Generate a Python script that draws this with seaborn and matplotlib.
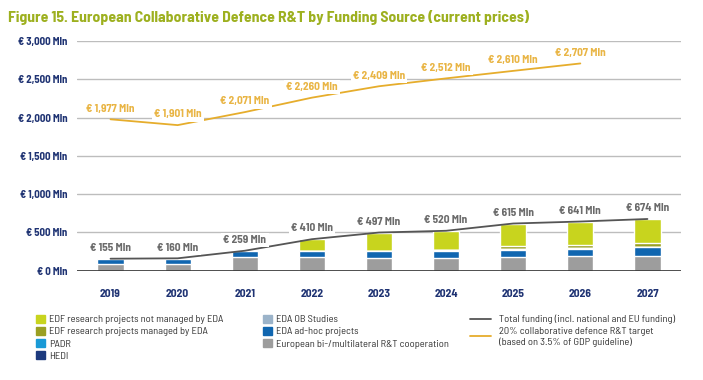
import numpy as np
import matplotlib
matplotlib.use("Agg")
import matplotlib.pyplot as plt
from matplotlib.patches import Patch
from matplotlib.lines import Line2D
import seaborn as sns

# ---- data (EUR Mln) -------------------------------------------------------
years = ["2019", "2020", "2021", "2022", "2023", "2024", "2025", "2026", "2027"]
bilateral = [85, 85, 180, 172, 160, 166, 180, 188, 192]
eda_adhoc = [60, 65, 70, 78, 95, 95, 90, 100, 110]
eda_ob = [2, 5, 5, 5, 7, 7, 8, 8, 8]
hedi = [0, 0, 0, 0, 0, 0, 0, 0, 0]
padr = [8, 5, 4, 0, 0, 0, 0, 0, 0]
edf_eda = [0, 0, 0, 0, 0, 0, 40, 44, 50]
edf_not_eda = [0, 0, 0, 155, 235, 252, 297, 301, 314]
totals = [155, 160, 259, 410, 497, 520, 615, 641, 674]
target_years = ["2019", "2020", "2021", "2022", "2023", "2024", "2025", "2026"]
target = [1977, 1901, 2071, 2260, 2409, 2512, 2610, 2707]

series = [
    ("European bi-/multilateral R&T cooperation", bilateral, "#9d9d9d"),
    ("EDA ad-hoc projects", eda_adhoc, "#1066b0"),
    ("EDA OB Studies", eda_ob, "#9bb3c9"),
    ("HEDI", hedi, "#1d3a7e"),
    ("PADR", padr, "#1a9ad6"),
    ("EDF research projects managed by EDA", edf_eda, "#9a9f22"),
    ("EDF research projects not managed by EDA", edf_not_eda, "#c8d41e"),
]

sns.set_theme(style="white")
plt.rcParams["font.family"] = ["Barlow Semi Condensed", "Roboto Condensed", "DejaVu Sans"]

NAVY = "#1f3373"
GOLD = "#e6ad2c"
GOLD_TXT = "#e9b545"
GREY_TXT = "#6b6b6b"

fig = plt.figure(figsize=(7.03, 3.8), dpi=100)
ax = fig.add_axes([0.1095, 0.288, 0.8592, 0.604])

# stacked bars: draw cumulative sums from the top layer down
cum = np.cumsum([np.array(s[1], dtype=float) for s in series], axis=0)
for i in range(len(series) - 1, -1, -1):
    sns.barplot(x=years, y=cum[i], color=series[i][2], width=0.39,
                saturation=1, ax=ax, zorder=2)

idx = np.arange(len(years))
sns.lineplot(x=idx, y=totals, color="#555555", lw=1.3, ax=ax, zorder=3)
sns.lineplot(x=np.arange(len(target_years)), y=target, color=GOLD, lw=1.3,
             ax=ax, zorder=3)

lab_kw = dict(ha="center", va="bottom", fontsize=8.2, fontweight="bold",
              bbox=dict(boxstyle="square,pad=0.2", fc="white", ec="none"),
              zorder=4)
for i, v in enumerate(totals):
    ax.text(i, v + 75, f"€ {v:,} Mln", color=GREY_TXT, **lab_kw)
for i, v in enumerate(target):
    ax.text(i, v + 75, f"€ {v:,} Mln", color=GOLD_TXT, **lab_kw)

ax.set_xlim(-0.5, 8.5)
ax.set_ylim(0, 3000)
ax.set_yticks(np.arange(0, 3001, 500))
ax.set_yticklabels([f"€ {v:,} Mln" for v in range(0, 3001, 500)])
ax.yaxis.grid(True, color="#bdbdbd", lw=1.0, zorder=0)
ax.set_axisbelow(True)
for s in ax.spines.values():
    s.set_visible(False)
ax.axhline(0, color="#333333", lw=1.2, zorder=3)
ax.tick_params(axis="y", length=0, pad=7, labelsize=7.8, labelcolor=NAVY)
ax.tick_params(axis="x", length=0, pad=13, labelsize=8.3, labelcolor=NAVY)
for t in ax.get_yticklabels() + ax.get_xticklabels():
    t.set_fontweight("bold")
ax.set_xlabel("")
ax.set_ylabel("")

fig.text(0.0114, 0.953,
         "Figure 15. European Collaborative Defence R&T by Funding Source (current prices)",
         fontsize=11.3, fontweight="bold", color="#9db01f", ha="left", va="center")

# legend in three columns
col = {s[0]: s[2] for s in series}
leg_kw = dict(frameon=False, fontsize=7.5, handlelength=0.85, handleheight=0.85,
              labelspacing=0.22, handletextpad=0.4, borderaxespad=0, borderpad=0,
              labelcolor="#333333")
names1 = ["EDF research projects not managed by EDA", "EDF research projects managed by EDA",
          "PADR", "HEDI"]
names2 = ["EDA OB Studies", "EDA ad-hoc projects", "European bi-/multilateral R&T cooperation"]
fig.legend([Patch(color=col[n]) for n in names1], names1, loc="upper left",
           bbox_to_anchor=(0.051, 0.172), **leg_kw)
fig.legend([Patch(color=col[n]) for n in names2], names2, loc="upper left",
           bbox_to_anchor=(0.374, 0.172), **leg_kw)
leg3 = dict(leg_kw, handlelength=2.0, handletextpad=0.75)
fig.legend([Line2D([], [], color="#555555", lw=1.3), Line2D([], [], color=GOLD, lw=1.3)],
           ["Total funding (incl. national and EU funding)",
            "20% collaborative defence R&T target\n(based on 3.5% of GDP guideline)"],
           loc="upper left", bbox_to_anchor=(0.669, 0.172), **leg3)

fig.savefig("out.png", dpi=100)
